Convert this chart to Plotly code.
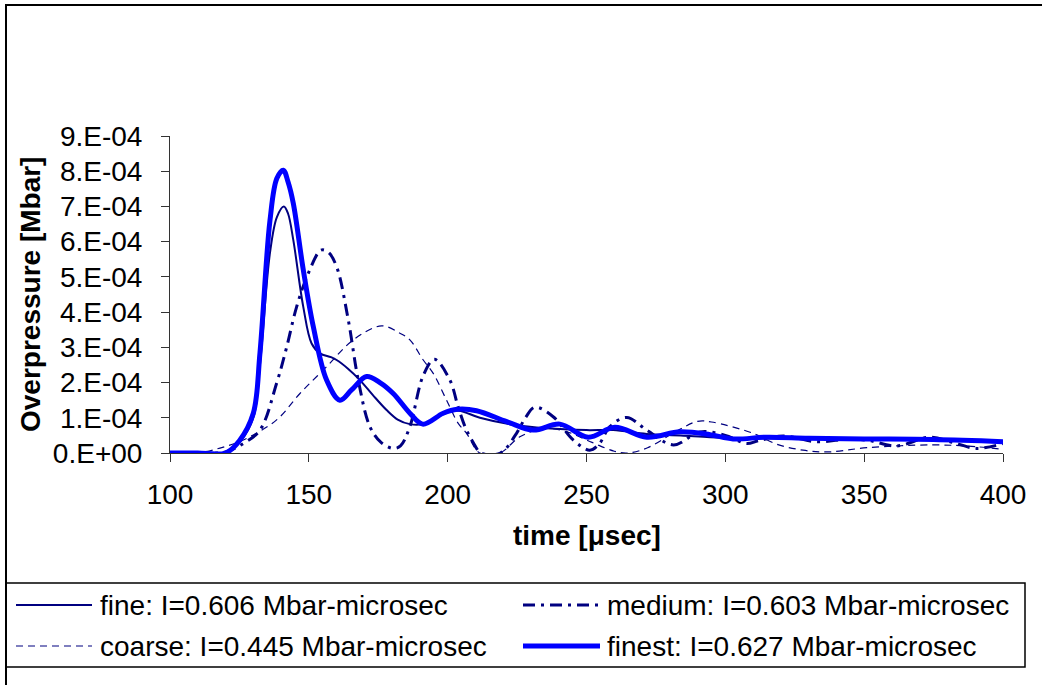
import plotly.graph_objects as go

# ---------------- data ----------------
t_fine = [100, 110, 120, 125, 130, 132.4, 136, 138.5, 141, 142.5, 144.4, 148, 151, 154, 158, 160, 164,
          168.4, 173, 178, 182, 186.4, 191, 195, 199.6, 204, 211.6, 223.6, 235.6, 250, 259.6, 271.7,
          284, 294.5, 310, 330, 350, 375, 400]
p_fine = [0, 0, 0, 0.3e-4, 1.0e-4, 2.5e-4, 5.68e-4, 6.7e-4, 7.0e-4, 6.8e-4, 6.05e-4, 4.15e-4, 3.11e-4,
          2.83e-4, 2.72e-4, 2.64e-4, 2.4e-4, 2.07e-4, 1.65e-4, 1.22e-4, 0.95e-4, 0.82e-4, 0.82e-4,
          0.95e-4, 1.15e-4, 1.2e-4, 1.0e-4, 0.8e-4, 0.7e-4, 0.65e-4, 0.65e-4, 0.54e-4, 0.5e-4,
          0.45e-4, 0.42e-4, 0.4e-4, 0.4e-4, 0.38e-4, 0.33e-4]

t_medium = [100, 115, 120, 126.4, 132.4, 138.4, 142, 145.6, 149.8, 154.4, 157, 160, 164.2, 167.8, 172,
            176, 180.4, 183, 186.4, 191.2, 195.2, 200.8, 203.8, 206.5, 209.2, 212, 219, 224.8, 228,
            231.4, 238, 245.2, 251.2, 254.5, 258.4, 264.5, 271.7, 281.3, 290.9, 300, 307.6, 312,
            320.9, 332.9, 344.9, 352, 361.7, 373.7, 382, 390.5, 400]
p_medium = [0, 0, 0.03e-4, 0.27e-4, 0.65e-4, 1.98e-4, 3.0e-4, 4.15e-4, 5.1e-4, 5.76e-4, 5.7e-4, 5.29e-4,
            3.78e-4, 2.07e-4, 0.75e-4, 0.3e-4, 0.13e-4, 0.2e-4, 0.75e-4, 2.2e-4, 2.66e-4, 2.07e-4,
            1.3e-4, 0.7e-4, 0.3e-4, 0, 0, 0.56e-4, 1.0e-4, 1.3e-4, 1.03e-4, 0.37e-4, 0.08e-4, 0.25e-4,
            0.75e-4, 1.01e-4, 0.65e-4, 0.23e-4, 0.6e-4, 0.5e-4, 0.27e-4, 0.35e-4, 0.48e-4, 0.32e-4,
            0.4e-4, 0.35e-4, 0.2e-4, 0.45e-4, 0.3e-4, 0.13e-4, 0.27e-4]

t_coarse = [100, 110, 118, 126.4, 138.4, 146.8, 156.4, 166, 176.2, 182.8, 186.4, 191.2, 194.8, 199.6,
            203.8, 206.8, 211.6, 218.8, 226, 235, 243, 252, 260, 265, 272, 282, 290, 295, 310, 318.5,
            328, 337, 351, 375, 390, 400]
p_coarse = [0, 0, 0.14e-4, 0.37e-4, 0.94e-4, 1.69e-4, 2.45e-4, 3.21e-4, 3.61e-4, 3.4e-4, 3.21e-4,
            2.64e-4, 2.26e-4, 1.5e-4, 0.84e-4, 0.56e-4, 0, 0, 0.46e-4, 0.7e-4, 0.6e-4, 0.3e-4, 0.05e-4,
            0, 0.15e-4, 0.6e-4, 0.9e-4, 0.88e-4, 0.56e-4, 0.25e-4, 0.08e-4, 0.03e-4, 0.15e-4, 0.23e-4,
            0.18e-4, 0.1e-4]

t_finest = [100, 110, 120, 125, 130, 132.4, 136, 138.5, 140.8, 142.5, 144.4, 148, 151.6, 156.4, 161.2,
            165.4, 170.8, 175.6, 180.4, 186.4, 191, 198.4, 203.5, 210.4, 221.3, 230.8, 240.4, 250.6,
            260.2, 271.7, 283.7, 294.5, 302.8, 315, 330, 350, 375, 400]
p_finest = [0, 0, 0, 0.35e-4, 1.13e-4, 2.84e-4, 6.6e-4, 7.8e-4, 8.03e-4, 7.7e-4, 7.09e-4, 5.2e-4, 3.59e-4,
            2.07e-4, 1.5e-4, 1.79e-4, 2.17e-4, 2.0e-4, 1.69e-4, 1.13e-4, 0.82e-4, 1.13e-4, 1.24e-4,
            1.2e-4, 0.89e-4, 0.65e-4, 0.82e-4, 0.45e-4, 0.73e-4, 0.45e-4, 0.6e-4, 0.52e-4, 0.4e-4,
            0.45e-4, 0.42e-4, 0.4e-4, 0.38e-4, 0.32e-4]

series_names = ["fine: I=0.606 Mbar-microsec", "medium: I=0.603 Mbar-microsec",
                "coarse: I=0.445 Mbar-microsec", "finest: I=0.627 Mbar-microsec"]

x_ticks = [100, 150, 200, 250, 300, 350, 400]
y_ticks = [0, 1e-4, 2e-4, 3e-4, 4e-4, 5e-4, 6e-4, 7e-4, 8e-4, 9e-4]
y_tick_text = ["0.E+00", "1.E-04", "2.E-04", "3.E-04", "4.E-04", "5.E-04", "6.E-04", "7.E-04",
               "8.E-04", "9.E-04"]

x_title = "time [μsec]"
y_title = "Overpressure [Mbar]"

# ---------------- layout geometry ----------------
W, H = 1042, 685
L, R, T, B = 170, 1003, 136, 453  # plot-area pixel bounds
FONT = "Liberation Sans, Arial, sans-serif"
NAVY = "#000080"
BLUE = "#0000FF"


def px_x(p):
    return (p - L) / (R - L)


def px_y(p):
    return (B - p) / (B - T)


styles = [
    dict(color=NAVY, width=2, dash="solid"),
    dict(color=NAVY, width=3, dash="12px,6px,3px,6px"),
    dict(color=NAVY, width=1.2, dash="7px,5px"),
    dict(color=BLUE, width=5, dash="solid"),
]

fig = go.Figure()
for (tx, py), name, st in zip([(t_fine, p_fine), (t_medium, p_medium), (t_coarse, p_coarse),
                               (t_finest, p_finest)], series_names, styles):
    fig.add_trace(go.Scatter(x=tx, y=py, mode="lines", name=name, line=dict(shape="spline", **st),
                             showlegend=False))

shapes = []
annotations = []

# outer chart border
shapes.append(dict(type="rect", xref="paper", yref="paper", x0=px_x(6), x1=px_x(1050),
                   y0=px_y(5), y1=px_y(700), line=dict(color="black", width=2), layer="below"))
# legend box
shapes.append(dict(type="rect", xref="paper", yref="paper", x0=px_x(6), x1=px_x(1025),
                   y0=px_y(583), y1=px_y(667), line=dict(color="black", width=1.5)))

legend_pos = [(16, 92, 98, 605), (523, 600, 605, 605), (16, 92, 98, 646), (523, 600, 605, 646)]
for (x0, x1, xt, yy), name, st in zip(legend_pos, series_names, styles):
    shapes.append(dict(type="line", xref="paper", yref="paper", x0=px_x(x0), x1=px_x(x1),
                       y0=px_y(yy), y1=px_y(yy), line=dict(color=st["color"], width=st["width"],
                                                           dash=st["dash"])))
    annotations.append(dict(text=name, xref="paper", yref="paper", x=px_x(xt), y=px_y(yy),
                            xanchor="left", yanchor="middle", showarrow=False,
                            font=dict(family=FONT, size=28, color="black")))

annotations.append(dict(text=x_title, xref="paper", yref="paper", x=px_x(587), y=px_y(535),
                        xanchor="center", yanchor="middle", showarrow=False,
                        font=dict(family=FONT, size=28, color="black", weight="bold")))
annotations.append(dict(text=y_title, xref="paper", yref="paper", x=px_x(30), y=px_y(295),
                        xanchor="center", yanchor="middle", showarrow=False, textangle=-90,
                        font=dict(family=FONT, size=28, color="black", weight="bold")))

fig.update_layout(
    width=W, height=H,
    margin=dict(l=L, r=W - R, t=T, b=H - B, pad=0),
    paper_bgcolor="white", plot_bgcolor="white",
    font=dict(family=FONT, size=28, color="black"),
    shapes=shapes, annotations=annotations,
    showlegend=False,
)
fig.update_xaxes(range=[100, 400], tickvals=x_ticks, ticktext=[str(v) for v in x_ticks],
                 showgrid=False, zeroline=False, showline=True, linecolor="#333", linewidth=1,
                 ticks="outside", ticklen=8, tickcolor="#333", tickwidth=1, ticklabelstandoff=8,
                 tickfont=dict(family=FONT, size=28, color="black"))
fig.update_yaxes(range=[0, 9e-4], tickvals=y_ticks, ticktext=y_tick_text,
                 showgrid=False, zeroline=False, showline=True, linecolor="#333", linewidth=1,
                 ticks="outside", ticklen=8, tickcolor="#333", tickwidth=1, ticklabelstandoff=13,
                 tickfont=dict(family=FONT, size=28, color="black"))

fig.write_html("out.html", config={"displayModeBar": False},
               post_script="document.body.style.margin='0';")
